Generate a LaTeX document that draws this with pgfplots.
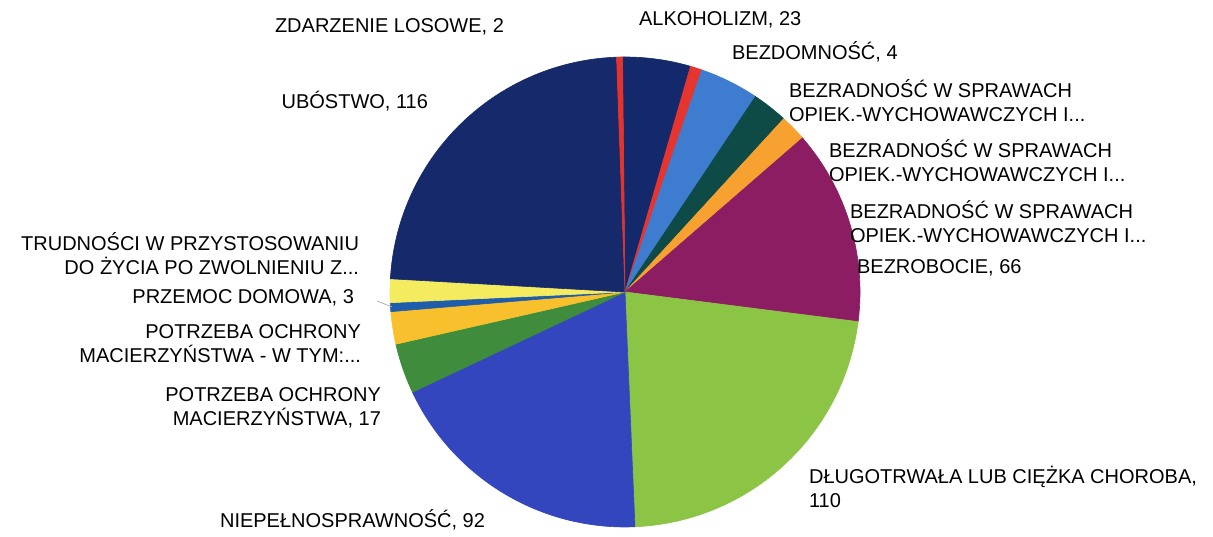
\documentclass[border=0pt]{standalone}
\usepackage{pgfplots}
\pgfplotsset{compat=1.18}
\usepackage{pgfplotstable}
\usepackage{fontspec}
\setmainfont{Liberation Sans}

\definecolor{cAlk}{HTML}{14296C}
\definecolor{cBezd}{HTML}{E6342E}
\definecolor{cBr1}{HTML}{3E7CCF}
\definecolor{cBr2}{HTML}{0E4A46}
\definecolor{cBr3}{HTML}{F7A131}
\definecolor{cBezr}{HTML}{8C1D62}
\definecolor{cDlug}{HTML}{8CC445}
\definecolor{cNiep}{HTML}{3346BD}
\definecolor{cPotr}{HTML}{3E8C3C}
\definecolor{cPotw}{HTML}{F8C02C}
\definecolor{cPrz}{HTML}{1F5CAA}
\definecolor{cTrud}{HTML}{F4EC5E}
\definecolor{cUbo}{HTML}{15296B}
\definecolor{cZd}{HTML}{E5332B}
\definecolor{txt}{HTML}{1A1A1A}

% slice values, clockwise from 12 o'clock
\pgfplotstableread{
id value
0 23
1 4
2 20
3 12
4 9
5 66
6 110
7 92
8 17
9 11
10 3
11 8
12 116
13 2
}\piedata

\pgfplotstablegetrowsof{\piedata}
\pgfmathtruncatemacro\pienrows{\pgfplotsretval-1}
\gdef\pietotal{0}
\foreach \i in {0,...,\pienrows}{%
  \pgfplotstablegetelem{\i}{value}\of\piedata
  \pgfmathsetmacro\pieT{\pietotal+\pgfplotsretval}%
  \xdef\pietotal{\pieT}}
\gdef\piecum{0}
\foreach \i in {0,...,\pienrows}{%
  \pgfplotstablegetelem{\i}{value}\of\piedata
  \pgfmathsetmacro\pieA{\piecum/\pietotal*360}%
  \pgfmathsetmacro\pieC{\piecum+\pgfplotsretval}%
  \pgfmathsetmacro\pieB{\pieC/\pietotal*360}%
  \expandafter\xdef\csname pieS\i\endcsname{\pieA}%
  \expandafter\xdef\csname pieE\i\endcsname{\pieB}%
  \xdef\piecum{\pieC}}

\newcommand\slice[2]{%
  \edef\pieplot{\noexpand\addplot[fill=#2, draw=#2, line width=0.3pt,
     domain=\csname pieS#1\endcsname:\csname pieE#1\endcsname,
     samples=80, variable=\noexpand\t]}%
  \pieplot ({625+235*sin(\t-0.6)},{292-235*cos(\t-0.6)}) -- (axis cs:625,292) -- cycle;}

\begin{document}
\begin{tikzpicture}
\begin{axis}[hide axis, scale only axis, width=606.5pt, height=265pt,
  xmin=0, xmax=1213, ymin=0, ymax=530, y dir=reverse, clip=false,
  every node/.style={font=\fontsize{8.5}{11}\selectfont, text=txt, inner sep=0pt}]
\path (axis cs:0,0) rectangle (axis cs:1213,530);
\slice{0}{cAlk}
\slice{1}{cBezd}
\slice{2}{cBr1}
\slice{3}{cBr2}
\slice{4}{cBr3}
\slice{5}{cBezr}
\slice{6}{cDlug}
\slice{7}{cNiep}
\slice{8}{cPotr}
\slice{9}{cPotw}
\slice{10}{cPrz}
\slice{11}{cTrud}
\slice{12}{cUbo}
\slice{13}{cZd}

\draw[gray!60, line width=0.4pt] (axis cs:377,301) -- (axis cs:392,307);

\node[anchor=east] at (axis cs:511,27) {ZDARZENIE LOSOWE, 2};
\node[anchor=west] at (axis cs:632,20) {ALKOHOLIZM, 23};
\node[anchor=west] at (axis cs:725,52) {BEZDOMNOŚĆ, 4};
\node[anchor=west, align=left] at (axis cs:782,101) {BEZRADNOŚĆ W SPRAWACH\\OPIEK.-WYCHOWAWCZYCH I...};
\node[anchor=west, align=left] at (axis cs:822,161) {BEZRADNOŚĆ W SPRAWACH\\OPIEK.-WYCHOWAWCZYCH I...};
\node[anchor=west, align=left] at (axis cs:843,222) {BEZRADNOŚĆ W SPRAWACH\\OPIEK.-WYCHOWAWCZYCH I...};
\node[anchor=west] at (axis cs:850,268) {BEZROBOCIE, 66};
\node[anchor=west, align=left] at (axis cs:802,487) {DŁUGOTRWAŁA LUB CIĘŻKA CHOROBA,\\110};
\node[anchor=west] at (axis cs:213,520) {NIEPEŁNOSPRAWNOŚĆ, 92};
\node[anchor=east, align=right] at (axis cs:388,408) {POTRZEBA OCHRONY\\MACIERZYŃSTWA, 17};
\node[anchor=east, align=right] at (axis cs:368,344) {POTRZEBA OCHRONY\\MACIERZYŃSTWA - W TYM:...};
\node[anchor=east] at (axis cs:361,298) {PRZEMOC DOMOWA, 3};
\node[anchor=east, align=right] at (axis cs:366,254) {TRUDNOŚCI W PRZYSTOSOWANIU\\DO ŻYCIA PO ZWOLNIENIU Z...};
\node[anchor=east] at (axis cs:435,101) {UBÓSTWO, 116};
\end{axis}
\end{tikzpicture}
\end{document}
